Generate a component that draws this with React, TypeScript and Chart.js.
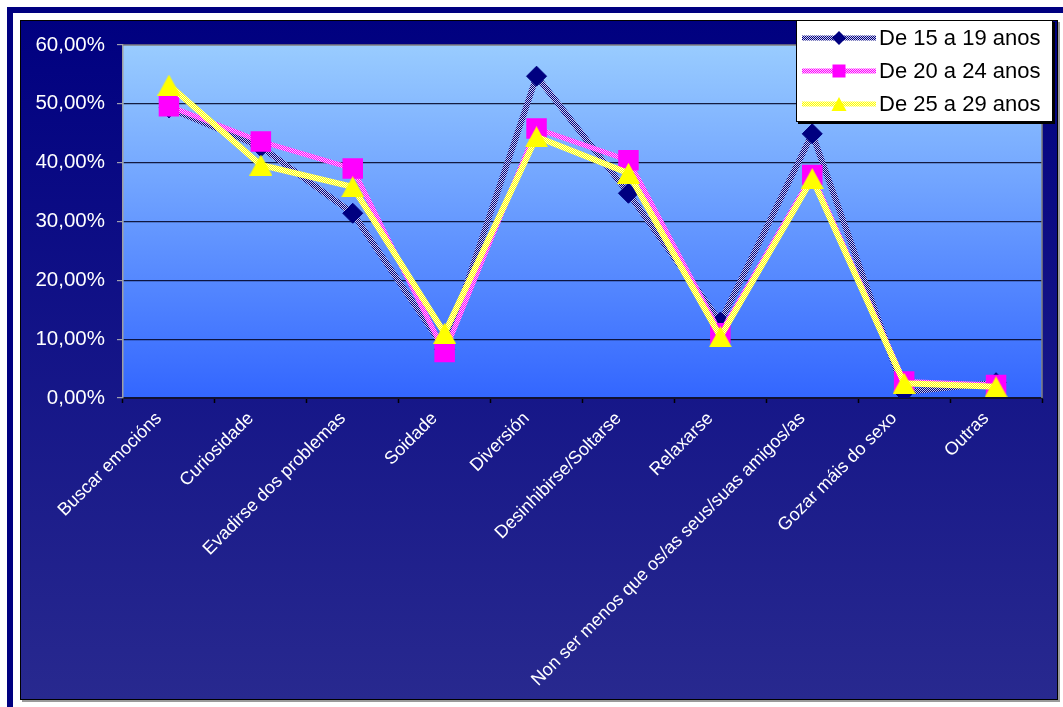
import React, { useEffect, useRef } from 'react';
import { Chart, registerables } from 'chart.js';
Chart.register(...registerables);

const categories = [
  'Buscar emocións',
  'Curiosidade',
  'Evadirse dos problemas',
  'Soidade',
  'Diversión',
  'Desinhibirse/Soltarse',
  'Relaxarse',
  'Non ser menos que os/as seus/suas amigos/as',
  'Gozar máis do sexo',
  'Outras',
];
const seriesNames = ['De 15 a 19 anos', 'De 20 a 24 anos', 'De 25 a 29 anos'];
const series15to19 = [49.3, 42.7, 31.4, 8.3, 54.7, 34.8, 12.9, 44.9, 1.0, 2.6];
const series20to24 = [49.6, 43.6, 39.0, 7.8, 45.8, 40.4, 11.0, 37.9, 2.8, 2.2];
const series25to29 = [53.2, 39.6, 35.9, 11.0, 44.4, 38.2, 10.4, 37.3, 2.5, 1.9];
const yMin = 0;
const yMax = 60;
const yStep = 10;

const FONT = '"Liberation Sans", Arial, sans-serif';

function makePattern(a: string, b: string) {
  const c = document.createElement('canvas');
  c.width = 2;
  c.height = 2;
  const g = c.getContext('2d')!;
  g.fillStyle = a;
  g.fillRect(0, 0, 2, 2);
  g.fillStyle = b;
  g.fillRect(0, 0, 1, 1);
  g.fillRect(1, 1, 1, 1);
  const ctx = document.createElement('canvas').getContext('2d')!;
  return ctx.createPattern(c, 'repeat')!;
}

function makeTriangle(size: number, color: string) {
  const c = document.createElement('canvas');
  c.width = size + 2;
  c.height = size;
  const g = c.getContext('2d')!;
  g.fillStyle = color;
  g.beginPath();
  g.moveTo((size + 2) / 2, 0);
  g.lineTo(size + 2, size);
  g.lineTo(0, size);
  g.closePath();
  g.fill();
  return c;
}

export default function App() {
  const ref = useRef<HTMLCanvasElement>(null);
  useEffect(() => {
    const canvas = ref.current!;
    const navyPat = makePattern('#000080', '#D0D0EC');
    const pinkPat = makePattern('#FF00FF', '#FFC8FF');
    const yellowPat = makePattern('#FFFF00', '#FFFFC8');
    const tri = makeTriangle(21, '#FFFF00');

    const bgPlugin = {
      id: 'bgPlugin',
      beforeDraw(chart: any) {
        const { ctx, chartArea: ca } = chart;
        const W = 1038, H = 680;
        ctx.save();
        ctx.fillStyle = '#9a9a9a';
        ctx.fillRect(2, H, W, 2);
        ctx.fillRect(W, 2, 2, H);
        const g = ctx.createLinearGradient(0, 0, 0, H);
        g.addColorStop(0, '#000080');
        g.addColorStop(1, '#28298F');
        ctx.fillStyle = g;
        ctx.fillRect(0, 0, W, H);
        ctx.strokeStyle = '#000';
        ctx.lineWidth = 1;
        ctx.strokeRect(0.5, 0.5, W - 1, H - 1);
        const pg = ctx.createLinearGradient(0, ca.top, 0, ca.bottom);
        pg.addColorStop(0, '#99CCFF');
        pg.addColorStop(1, '#3366FF');
        ctx.fillStyle = pg;
        ctx.fillRect(ca.left, ca.top, ca.right - ca.left, ca.bottom - ca.top);
        ctx.restore();
      },
      beforeDatasetsDraw(chart: any) {
        const { ctx, chartArea: ca } = chart;
        ctx.save();
        ctx.strokeStyle = '#808080';
        ctx.lineWidth = 1.5;
        ctx.beginPath();
        ctx.moveTo(ca.left, ca.top);
        ctx.lineTo(ca.right, ca.top);
        ctx.lineTo(ca.right, ca.bottom);
        ctx.stroke();
        ctx.restore();
      },
      afterDraw(chart: any) {
        const ctx = chart.ctx;
        const x = 776, y = 0, w = 257, h = 102;
        ctx.save();
        ctx.fillStyle = '#000';
        ctx.fillRect(x + 2, y + 2, w, h);
        ctx.fillStyle = '#fff';
        ctx.fillRect(x, y, w, h);
        ctx.strokeStyle = '#000';
        ctx.lineWidth = 1;
        ctx.strokeRect(x + 0.5, y + 0.5, w - 1, h - 1);
        const pats = [navyPat, pinkPat, yellowPat];
        chart.data.datasets.forEach((ds: any, i: number) => {
          const cy = 18 + i * 33;
          ctx.strokeStyle = pats[i];
          ctx.lineWidth = 5;
          ctx.beginPath();
          ctx.moveTo(782, cy);
          ctx.lineTo(856, cy);
          ctx.stroke();
          const mx = 819;
          ctx.beginPath();
          if (i === 0) {
            ctx.fillStyle = '#000080';
            ctx.moveTo(mx, cy - 7);
            ctx.lineTo(mx + 7, cy);
            ctx.lineTo(mx, cy + 7);
            ctx.lineTo(mx - 7, cy);
          } else if (i === 1) {
            ctx.fillStyle = '#FF00FF';
            ctx.rect(mx - 6.5, cy - 6.5, 13, 13);
          } else {
            ctx.fillStyle = '#FFFF00';
            ctx.moveTo(mx, cy - 7);
            ctx.lineTo(mx + 7.5, cy + 7);
            ctx.lineTo(mx - 7.5, cy + 7);
          }
          ctx.closePath();
          ctx.fill();
          ctx.fillStyle = '#000';
          ctx.font = `22px ${FONT}`;
          ctx.textBaseline = 'middle';
          ctx.textAlign = 'left';
          ctx.fillText(ds.label, 859, cy + 1);
        });
        ctx.restore();
      },
    };

    const chart = new Chart(canvas, {
      type: 'line',
      data: {
        labels: categories,
        datasets: [
          {
            label: seriesNames[0],
            data: series15to19,
            borderColor: navyPat as any,
            borderWidth: 6,
            pointStyle: 'rectRot',
            pointRadius: 10,
            pointBackgroundColor: '#000080',
            pointBorderColor: '#000080',
            pointBorderWidth: 1,
            order: 3,
          },
          {
            label: seriesNames[1],
            data: series20to24,
            borderColor: pinkPat as any,
            borderWidth: 5,
            pointStyle: 'rect',
            pointRadius: 14.5,
            pointBackgroundColor: '#FF00FF',
            pointBorderColor: '#FF00FF',
            pointBorderWidth: 0,
            order: 2,
          },
          {
            label: seriesNames[2],
            data: series25to29,
            borderColor: yellowPat as any,
            borderWidth: 6,
            pointStyle: tri as any,
            pointRadius: 11,
            pointBackgroundColor: '#FFFF00',
            pointBorderColor: '#FFFF00',
            pointBorderWidth: 0,
            order: 1,
          },
        ],
      },
      options: {
        responsive: false,
        animation: false,
        layout: { padding: { left: 0, top: 25, right: 19, bottom: 0 } },
        plugins: {
          legend: { display: false },
          title: { display: false },
          tooltip: { enabled: false },
        },
        elements: { line: { tension: 0 } },
        scales: {
          x: {
            type: 'category',
            offset: true,
            grid: {
              offset: true,
              drawOnChartArea: false,
              drawTicks: true,
              tickLength: 5,
              tickColor: '#000',
              tickWidth: 1.5,
            },
            border: { color: '#101030', width: 2 },
            ticks: {
              autoSkip: false,
              maxRotation: 45,
              minRotation: 45,
              color: '#FFFFFF',
              font: { family: FONT, size: 18 },
              padding: 5,
              labelOffset: -10,
            },
            afterFit(scale: any) {
              scale.height = 305;
            },
          },
          y: {
            min: yMin,
            max: yMax,
            ticks: {
              stepSize: yStep,
              color: '#FFFFFF',
              font: { family: FONT, size: 20.5 },
              padding: 12,
              callback: (v: any) => Number(v).toFixed(2).replace('.', ',') + '%',
            },
            grid: {
              color: (c: any) => (c.tick && (c.tick.value === yMax || c.tick.value === yMin) ? 'rgba(0,0,0,0)' : 'rgba(0,0,30,0.85)'),
              lineWidth: 1.2,
              tickLength: 6,
              tickColor: '#A0A0B0',
              drawTicks: true,
            },
            border: { color: '#A0A0A0', width: 1.5 },
            afterFit(scale: any) {
              scale.width = 103;
            },
          },
        },
      },
      plugins: [bgPlugin],
    });
    return () => chart.destroy();
  }, []);

  return (
    <div style={{ position: 'fixed', left: 0, top: 0, width: 1063, height: 707, background: '#fff', overflow: 'hidden' }}>
      <div style={{ position: 'absolute', left: 7, top: 7, width: 6, height: 700, background: '#000080' }} />
      <div style={{ position: 'absolute', left: 7, top: 7, width: 1056, height: 6, background: '#000080' }} />
      <canvas ref={ref} width={1041} height={683} style={{ position: 'absolute', left: 20, top: 20, width: 1041, height: 683 }} />
    </div>
  );
}
